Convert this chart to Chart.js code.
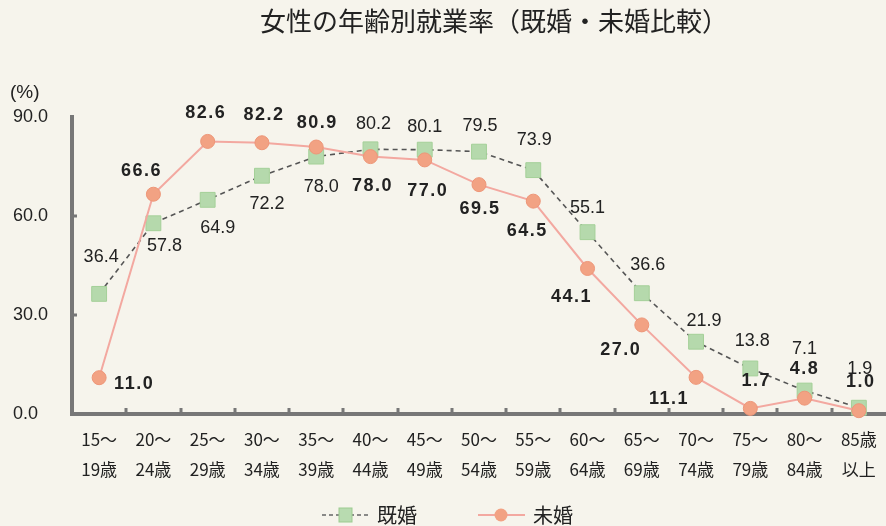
<!DOCTYPE html>
<html lang="ja">
<head>
<meta charset="utf-8">
<title>女性の年齢別就業率（既婚・未婚比較）</title>
<script src="https://cdn.jsdelivr.net/npm/chart.js@4.4.1/dist/chart.umd.min.js"></script>
<style>
html,body{margin:0;padding:0;background:#f6f4ec;}
#wrap{width:886px;height:526px;}
</style>
</head>
<body>
<div id="wrap"><canvas id="rateChart" width="886" height="526"></canvas></div>
<script>
/* ---------- DATA ---------- */
const ageLabels = [
  ['15～','19歳'],['20～','24歳'],['25～','29歳'],['30～','34歳'],['35～','39歳'],
  ['40～','44歳'],['45～','49歳'],['50～','54歳'],['55～','59歳'],['60～','64歳'],
  ['65～','69歳'],['70～','74歳'],['75～','79歳'],['80～','84歳'],['85歳','以上']
];
const married   = [36.4,57.8,64.9,72.2,78.0,80.2,80.1,79.5,73.9,55.1,36.6,21.9,13.8,7.1,1.9];
const unmarried = [11.0,66.6,82.6,82.2,80.9,78.0,77.0,69.5,64.5,44.1,27.0,11.1,1.7,4.8,1.0];
const yMax = 90, yStep = 30;

/* ---------- LABEL PLACEMENT (dx,dy from the marker) ---------- */
const marriedLabelOffset = [[2,-37],[11,23],[10,28],[5,28],[5,30],[3,-25],[0,-23],[1,-26],
  [1,-30],[0,-24],[6,-28],[8,-21],[2,-27],[0,-42],[1,-39]];
const unmarriedLabelOffset = [[35,6],[-12,-23],[-2,-28],[2,-28],[1,-24],[2,29],[3,31],[1,24],
  [-6,30],[-16,29],[-21,25],[-27,22],[6,-27],[0,-29],[2,-29]];

const BG = '#f6f4ec', INK = '#222';
const AXIS = '#777';
const JP = "'Noto Sans CJK JP', sans-serif";
const NUM = "'Liberation Sans', Arial, sans-serif";

const labelStyles = [
  {offset: marriedLabelOffset,   font: `18px ${NUM}`,      spacing: '0px'},
  {offset: unmarriedLabelOffset, font: `bold 18px ${NUM}`, spacing: '1.5px'}
];

/* ---------- PLUGINS ---------- */
const paperBg = {
  id: 'paperBg',
  beforeDraw(chart){
    const c = chart.ctx;
    c.save(); c.fillStyle = BG; c.fillRect(0,0,chart.width,chart.height); c.restore();
  }
};

const valueLabels = {
  id: 'valueLabels',
  afterDatasetsDraw(chart){
    const c = chart.ctx;
    chart.data.datasets.forEach((ds,di)=>{
      const st = labelStyles[di], meta = chart.getDatasetMeta(di);
      c.save();
      c.font = st.font; c.letterSpacing = st.spacing;
      c.fillStyle = INK; c.textAlign = 'center'; c.textBaseline = 'middle';
      meta.data.forEach((pt,i)=>{
        const [dx,dy] = st.offset[i];
        c.fillText(ds.data[i].toFixed(1), pt.x+dx, pt.y+dy);
      });
      c.restore();
    });
  }
};

const chrome = {
  id: 'chrome',
  afterDraw(chart){
    const c = chart.ctx, {left,right,top,bottom} = chart.chartArea;
    const ys = chart.scales.y;
    c.save();
    // title + unit
    c.fillStyle = INK; c.textBaseline = 'middle';
    c.font = `26px ${JP}`; c.textAlign = 'center';
    c.fillText('女性の年齢別就業率（既婚・未婚比較）', 494, 21);
    c.font = `19px ${NUM}`; c.textAlign = 'left';
    c.fillText('(%)', 10, 93);

    // inward tick marks
    c.strokeStyle = AXIS; c.lineWidth = 3;
    const step = (right-left)/ageLabels.length;
    for(let i=1;i<ageLabels.length;i++){
      const x = Math.round(left+step*i);
      c.beginPath(); c.moveTo(x,bottom); c.lineTo(x,bottom-6); c.stroke();
    }
    [yStep, yMax-yStep].forEach(v=>{
      const y = ys.getPixelForValue(v);
      c.beginPath(); c.moveTo(left,y); c.lineTo(left+5,y); c.stroke();
    });

    // legend
    const ly = 515;
    c.lineWidth = 1.5; c.strokeStyle = '#666'; c.setLineDash([4,3]);
    c.beginPath(); c.moveTo(322,ly); c.lineTo(368,ly); c.stroke();
    c.setLineDash([]);
    c.fillStyle = '#b8dbb0'; c.strokeStyle = '#9ccb90'; c.lineWidth = 1;
    c.fillRect(339,ly-7,13,14); c.strokeRect(339,ly-7,13,14);
    c.strokeStyle = '#f3a8a0'; c.lineWidth = 2;
    c.beginPath(); c.moveTo(478,ly); c.lineTo(525,ly); c.stroke();
    c.fillStyle = '#f2a283';
    c.beginPath(); c.arc(501,ly,6.5,0,Math.PI*2); c.fill();
    c.fillStyle = INK; c.font = `20px ${JP}`; c.textAlign = 'left';
    c.fillText('既婚', 377, ly);
    c.fillText('未婚', 533, ly);
    c.restore();
  }
};

/* ---------- CHART ---------- */
new Chart(document.getElementById('rateChart'), {
  type: 'line',
  data: {
    labels: ageLabels,
    datasets: [
      {label:'既婚', data: married, order: 1,
       borderColor:'#555', borderWidth:1.6, borderDash:[5,4],
       pointStyle:'rect', pointRadius:10.5, pointHoverRadius:10.5,
       pointBackgroundColor:'#b5d9ac', pointBorderColor:'#a4d098', pointBorderWidth:1,
       tension:0, clip:false},
      {label:'未婚', data: unmarried, order: 0,
       borderColor:'#f3a8a0', borderWidth:2,
       pointStyle:'circle', pointRadius:7, pointHoverRadius:7,
       pointBackgroundColor:'#f2a283', pointBorderColor:'#ee9678', pointBorderWidth:1,
       tension:0, clip:false}
    ]
  },
  options: {
    responsive: false,
    animation: false,
    layout: {autoPadding:false, padding: {left:13, top:117, right:0, bottom:0}},
    plugins: {legend:{display:false}, tooltip:{enabled:false}, title:{display:false}},
    scales: {
      x: {
        offset: true,
        // transparent tick marks only push the labels down; the visible ones are drawn inward
        grid: {display:true, drawOnChartArea:false, drawTicks:true, tickLength:11, color:'rgba(0,0,0,0)'},
        border: {display:true, color:AXIS, width:4},
        ticks: {color:INK, font:{family:JP, size:17, lineHeight:1.75}, padding:0, maxRotation:0, autoSkip:false},
        afterFit: s => { s.height = 112; }
      },
      y: {
        min: 0, max: yMax,
        grid: {display:false, drawTicks:false},
        border: {display:true, color:AXIS, width:4},
        ticks: {stepSize:yStep, color:INK, crossAlign:'far', font:{family:NUM, size:18},
                callback: v => v.toFixed(1)},
        afterFit: s => { s.width = 59; }
      }
    }
  },
  plugins: [paperBg, valueLabels, chrome]
});
</script>
</body>
</html>
